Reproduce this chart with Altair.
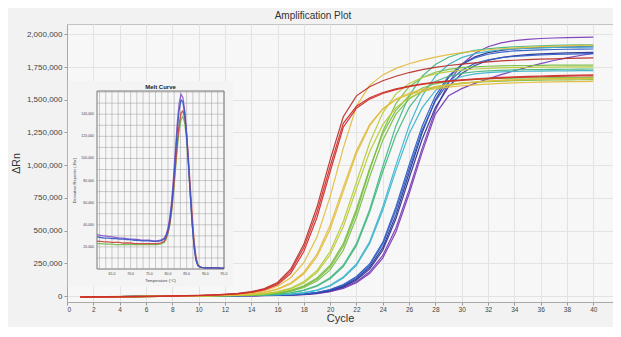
import altair as alt
import pandas as pd

# ---------------- Amplification data (ΔRn in thousands, cycles 1..40) ----------------
cycles = list(range(1, 41))

red_1 = [-8,-7,-6,-5,-4,-3,-2,0,2,4,7,12,18,30,52,95,190,370,640,990,1320,1450,1515,1555,1583,1605,1622,1635,1645,1653,1660,1666,1671,1675,1678,1681,1684,1686,1688,1690]
red_2 = [-10,-9,-8,-7,-6,-5,-3,-1,1,3,6,10,16,27,47,86,172,340,600,950,1290,1435,1505,1548,1578,1600,1617,1630,1640,1648,1655,1661,1666,1670,1673,1676,1678,1680,1682,1683]
red_3 = [-6,-5,-4,-4,-3,-2,-1,1,3,5,8,13,20,33,57,103,205,395,680,1040,1370,1530,1600,1645,1680,1708,1730,1748,1762,1773,1782,1790,1797,1802,1806,1810,1813,1816,1818,1820]
yellow_1 = [-5,-4,-4,-3,-2,-1,0,1,2,3,5,8,13,22,40,75,140,255,450,760,1130,1450,1610,1690,1740,1775,1803,1826,1845,1860,1872,1882,1890,1896,1901,1906,1910,1913,1916,1918]
yellow_2 = [-9,-8,-7,-6,-5,-4,-3,-1,0,2,3,6,10,17,30,55,100,180,320,540,830,1110,1310,1430,1500,1540,1566,1584,1597,1607,1614,1620,1625,1629,1632,1635,1637,1638,1639,1640]
yellow_3 = [-8,-7,-6,-5,-4,-3,-2,-1,0,1,3,5,9,15,27,50,92,168,300,510,800,1090,1300,1430,1505,1550,1580,1600,1615,1627,1636,1643,1648,1652,1655,1657,1659,1660,1661,1662]
lime_1 = [-9,-8,-7,-6,-5,-4,-3,-2,-1,1,2,4,6,10,17,30,55,100,180,315,530,820,1100,1310,1440,1515,1560,1590,1610,1624,1634,1642,1648,1653,1656,1659,1661,1663,1664,1665]
lime_2 = [-7,-6,-5,-5,-4,-3,-2,-1,0,2,3,5,7,11,19,33,60,110,195,340,570,870,1170,1400,1545,1625,1670,1698,1715,1727,1735,1740,1744,1746,1748,1749,1750,1751,1751,1752]
green_1 = [-8,-7,-6,-5,-4,-3,-2,-1,0,1,2,3,5,8,13,22,40,72,128,220,380,640,960,1260,1470,1600,1670,1710,1732,1745,1752,1756,1759,1761,1762,1763,1764,1764,1765,1765]
green_2 = [-9,-8,-7,-6,-5,-4,-3,-2,-1,0,1,3,4,7,12,20,36,65,115,200,350,600,910,1190,1390,1505,1565,1598,1616,1627,1634,1639,1643,1646,1648,1650,1651,1652,1653,1654]
green_3 = [-8,-7,-6,-6,-5,-4,-3,-2,-1,1,2,3,5,8,14,24,43,78,138,235,400,665,975,1240,1420,1530,1590,1622,1640,1650,1656,1660,1663,1665,1667,1668,1669,1670,1670,1671]
sea_1 = [-7,-6,-5,-4,-3,-2,-1,0,1,1,2,3,4,6,9,15,25,45,80,140,235,400,660,990,1300,1530,1680,1770,1825,1857,1877,1890,1899,1905,1909,1912,1915,1917,1919,1920]
sea_2 = [-8,-7,-6,-5,-4,-3,-2,-1,0,1,2,3,4,6,9,14,23,42,75,132,225,385,640,950,1230,1440,1570,1640,1680,1702,1714,1721,1725,1728,1730,1731,1732,1733,1734,1735]
cyan_1 = [-6,-5,-5,-4,-3,-2,-1,0,0,1,2,3,4,5,8,11,15,26,46,82,145,245,415,680,1000,1300,1530,1680,1770,1822,1852,1870,1882,1889,1894,1897,1900,1902,1903,1904]
cyan_2 = [-8,-7,-6,-5,-4,-3,-2,-1,0,0,1,2,3,5,7,10,14,24,43,77,137,235,400,655,960,1240,1440,1570,1640,1678,1698,1708,1713,1716,1718,1719,1720,1721,1722,1722]
blue_1 = [-7,-6,-5,-4,-3,-2,-1,0,0,1,1,2,3,4,5,8,11,16,28,50,88,150,245,410,680,1000,1300,1530,1680,1770,1820,1848,1864,1873,1878,1882,1884,1886,1887,1888]
blue_2 = [-8,-7,-6,-5,-4,-3,-2,-1,0,0,1,2,3,4,5,7,10,15,26,47,83,142,235,395,655,970,1270,1490,1635,1725,1778,1806,1822,1832,1838,1843,1846,1849,1851,1852]
indigo_1 = [-6,-5,-4,-4,-3,-2,-1,0,0,1,1,2,2,3,5,7,9,14,24,43,76,132,220,370,620,940,1250,1500,1670,1770,1828,1860,1878,1888,1894,1898,1901,1903,1904,1905]
indigo_2 = [-7,-6,-6,-5,-4,-3,-2,-1,0,0,1,1,2,3,4,6,9,13,22,40,70,122,205,350,590,900,1200,1440,1600,1700,1762,1800,1822,1836,1845,1851,1855,1858,1860,1862]
purple_1 = [-7,-6,-5,-4,-3,-2,-1,-1,0,0,1,1,2,3,4,5,8,12,20,36,63,110,185,310,520,810,1130,1420,1630,1770,1855,1905,1935,1952,1962,1968,1972,1975,1977,1978]
purple_2 = [-8,-7,-6,-5,-4,-3,-2,-1,-1,0,0,1,2,2,3,5,7,11,18,33,58,102,172,290,490,780,1100,1390,1530,1585,1625,1660,1692,1722,1750,1776,1800,1820,1838,1855]

# drawn first -> last (red on top)
well_names = ["purple_2","purple_1","indigo_2","indigo_1","blue_2","blue_1","cyan_2","cyan_1",
              "sea_2","sea_1","green_3","green_2","green_1","lime_2","lime_1",
              "yellow_3","yellow_2","yellow_1","red_3","red_2","red_1"]
well_values = [purple_2, purple_1, indigo_2, indigo_1, blue_2, blue_1, cyan_2, cyan_1,
               sea_2, sea_1, green_3, green_2, green_1, lime_2, lime_1,
               yellow_3, yellow_2, yellow_1, red_3, red_2, red_1]
well_colors = ["#7b3db6","#7b3db6","#2e3595","#2e3595","#2f5fc4","#2f5fc4","#3fb4cf","#3fb4cf",
               "#45b884","#45b884","#79bf45","#79bf45","#79bf45","#b7cb3b","#b7cb3b",
               "#e3bd3e","#e3bd3e","#e3bd3e","#b8302c","#d0312d","#d0312d"]

x_ticks = list(range(0, 42, 2))
y_ticks = [0, 250000, 500000, 750000, 1000000, 1250000, 1500000, 1750000, 2000000]
chart_title = "Amplification Plot"

# ---------------- Melt curve inset data (derivative in thousands) ----------------
melt_temp = [61,62,63,64,65,66,67,68,69,70,71,72,73,74,75,76,77,78,79,79.5,80,80.5,81,81.5,82,82.5,83,83.5,84,84.5,85,85.5,86,86.5,87,87.5,88,88.5,89,90,91,92,93,94,95]
melt_blue = [29,28.5,28,28,27.5,27.5,27,27,26.5,26.5,26,26,25.5,25.5,25.5,25,25,25.5,27,30,35,44,58,78,102,126,144,153,151,140,120,94,66,40,20,8,3,2,1.5,1,1,1,1,0.8,0.6]
melt_purple = [31,30.5,30,29.5,29,28.5,28,28,27.5,27,27,26.5,26,26,26,25.5,25.5,26,28,31,37,47,62,83,108,132,150,158,155,143,122,95,66,40,20,8,3,2,1.5,1,1,1,1,0.8,0.6]
melt_green = [23,23,22.5,22.5,22.5,22,22,22,22,22,22,22,22,22,22,22,22,22.5,24,27,32,40,53,70,90,110,126,135,138,132,116,93,67,42,22,9,4,2,1.5,1,1,1,1,0.8,0.6]
melt_red = [25,25,24.5,24.5,24,24,24,23.5,23.5,23.5,23,23,23,23,23,23,23,23.5,25,28,33,41,54,72,93,114,131,141,143,137,122,99,73,47,25,11,4,2,1.5,1,1,1,1,0.8,0.6]
melt_names = ["green", "red", "purple", "blue"]
melt_values = [melt_green, melt_red, melt_purple, melt_blue]
melt_colors = ["#6dbb4a", "#c9413a", "#8a55c8", "#3556c8"]
melt_temp_ticks = [65, 70, 75, 80, 85, 90, 95]
melt_deriv_ticks = [20, 40, 60, 80, 100, 120, 140]
melt_hgrid = [10, 20, 30, 40, 50, 60, 70, 80, 90, 100, 110, 120, 130, 140, 150, 160]

# ---------------- tables ----------------
amp_rows = []
for name, vals in zip(well_names, well_values):
    for c, v in zip(cycles, vals):
        amp_rows.append({"well": name, "cycle": c, "drn": v * 1000})
amp_df = pd.DataFrame(amp_rows)

melt_rows = []
for name, vals in zip(melt_names, melt_values):
    for t, v in zip(melt_temp, vals):
        melt_rows.append({"curve": name, "temp": t, "deriv": v})
melt_df = pd.DataFrame(melt_rows)

vgrid = []
for t in melt_temp_ticks:
    vgrid += [t, t - 5 / 3, t - 10 / 3]
vgrid_df = pd.DataFrame({"t": vgrid, "lo": 0, "hi": 161})
hgrid_df = pd.DataFrame({"d": melt_hgrid, "lo": 61, "hi": 95})
xlab_df = pd.DataFrame({"t": melt_temp_ticks, "d": 0, "lab": [f"{t:.1f}" for t in melt_temp_ticks]})
ylab_df = pd.DataFrame({"t": 61, "d": melt_deriv_ticks, "lab": [f"{d*1000:,}" for d in melt_deriv_ticks]})

FONT = "Liberation Sans"

# ---------------- main amplification plot ----------------
x_main = alt.X("cycle:Q", scale=alt.Scale(domain=[0, 41.5], nice=False, zero=False),
               axis=alt.Axis(values=x_ticks, title="Cycle", labelFontSize=6.5, labelPadding=1,
                             titleFontSize=11, titleFontWeight="normal",
                             titleBaseline="alphabetic", titleY=19))
y_main = alt.Y("drn:Q", scale=alt.Scale(domain=[-45700, 2079000], nice=False, zero=False),
               axis=alt.Axis(values=y_ticks, format=",d", title="ΔRn", labelFontSize=8,
                             labelPadding=2, titleFontSize=10.5, titleFontWeight="normal",
                             titlePadding=5))

amp = alt.Chart(amp_df).mark_line(strokeWidth=1.2, opacity=0.95).encode(
    x=x_main, y=y_main,
    color=alt.Color("well:N", scale=alt.Scale(domain=well_names, range=well_colors), legend=None),
    order=alt.Order("cycle:Q"),
)

title_mark = alt.Chart(pd.DataFrame({"t": [chart_title]})).mark_text(
    fontSize=10, color="#333", font=FONT, baseline="middle", align="center"
).encode(x=alt.value(246), y=alt.value(-8.5), text="t:N")

# ---------------- inset melt curve ----------------
ixs = alt.Scale(domain=[61, 95], range=[30, 157], nice=False, zero=False)
iys = alt.Scale(domain=[0, 161], range=[245, 67], nice=False, zero=False)

def IX(f):
    return alt.X(f, scale=ixs, axis=None)

def IY(f):
    return alt.Y(f, scale=iys, axis=None)

backdrop = alt.Chart(pd.DataFrame({"a": [53.2], "b": [97.5], "c": [-16], "d": [170]})).mark_rect(
    fill="#f4f4f4").encode(x=IX("a:Q"), x2="b:Q", y=IY("c:Q"), y2="d:Q")
frame = alt.Chart(pd.DataFrame({"a": [61], "b": [95], "c": [0], "d": [161]})).mark_rect(
    fill="#f7f7f7", stroke="#555555", strokeWidth=0.8).encode(x=IX("a:Q"), x2="b:Q", y=IY("c:Q"), y2="d:Q")
vrules = alt.Chart(vgrid_df).mark_rule(color="#9a9a9a", strokeWidth=0.5).encode(
    x=IX("t:Q"), y=IY("lo:Q"), y2="hi:Q")
hrules = alt.Chart(hgrid_df).mark_rule(color="#9a9a9a", strokeWidth=0.5).encode(
    y=IY("d:Q"), x=IX("lo:Q"), x2="hi:Q")
melt = alt.Chart(melt_df).mark_line(strokeWidth=1.3, opacity=0.9).encode(
    x=IX("temp:Q"), y=IY("deriv:Q"),
    color=alt.Color("curve:N", scale=alt.Scale(domain=melt_names, range=melt_colors), legend=None),
    order=alt.Order("temp:Q"),
)
xlabs = alt.Chart(xlab_df).mark_text(fontSize=3.5, baseline="top", dy=3, color="#444", font=FONT).encode(
    x=IX("t:Q"), y=IY("d:Q"), text="lab:N")
ylabs = alt.Chart(ylab_df).mark_text(fontSize=3.5, align="right", dx=-3, color="#444", font=FONT).encode(
    x=IX("t:Q"), y=IY("d:Q"), text="lab:N")
ititle = alt.Chart(pd.DataFrame({"t": [78], "d": [161], "lab": ["Melt Curve"]})).mark_text(
    fontSize=6, fontWeight="bold", baseline="bottom", dy=-1, color="#222", font=FONT).encode(
    x=IX("t:Q"), y=IY("d:Q"), text="lab:N")
ixtitle = alt.Chart(pd.DataFrame({"t": [78], "d": [0], "lab": ["Temperature (°C)"]})).mark_text(
    fontSize=4, baseline="top", dy=10, color="#444", font=FONT).encode(
    x=IX("t:Q"), y=IY("d:Q"), text="lab:N")
iytitle = alt.Chart(pd.DataFrame({"t": [61], "d": [80], "lab": ["Derivative Reporter (-Rn')"]})).mark_text(
    fontSize=4, angle=270, dy=-22, color="#444", font=FONT).encode(
    x=IX("t:Q"), y=IY("d:Q"), text="lab:N")

inset = alt.layer(backdrop, frame, vrules, hrules, melt, xlabs, ylabs, ititle, ixtitle, iytitle)

chart = alt.layer(amp, inset, title_mark).resolve_scale(
    x="independent", y="independent", color="independent"
).properties(
    width=546, height=278,
    autosize=alt.AutoSizeParams(type="none"),
    padding={"left": 59, "top": 16, "right": 0, "bottom": 25},
    background="#f2f2f2",
).configure_view(
    fill="#f7f7f7", stroke="#c4c4c4", strokeWidth=1
).configure_axis(
    labelFont=FONT, titleFont=FONT, labelColor="#444", titleColor="#333",
    gridColor="#e3e3e3", gridWidth=1, tickColor="#999", tickSize=3,
    domainColor="#a8a8a8",
)

chart.save("out.html", embed_options={"renderer": "svg", "actions": False})
